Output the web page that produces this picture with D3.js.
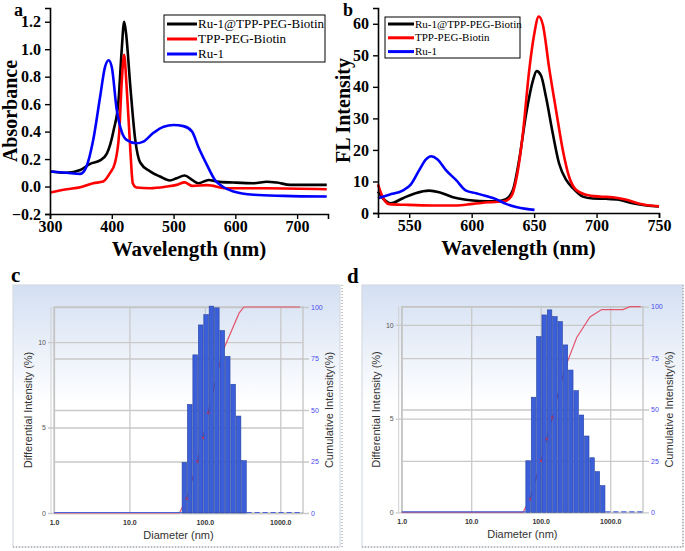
<!DOCTYPE html>
<html>
<head>
<meta charset="utf-8">
<script src="https://cdn.jsdelivr.net/npm/d3@7"></script>
<style>
  body { margin: 0; background: #fff; }
  .serif { font-family: "Liberation Serif", "Times New Roman", serif; }
  .sans { font-family: "Liberation Sans", Arial, sans-serif; }
</style>
</head>
<body>
<svg id="fig" width="685" height="551"></svg>
<script>
// ---------- data ----------
const seriesNames = ["Ru-1@TPP-PEG-Biotin", "TPP-PEG-Biotin", "Ru-1"];
const seriesColors = ["#000000", "#ff0000", "#0000ff"];

// a: absorbance spectra
const absComplexNm = [300, 327, 349, 365, 381, 392, 403, 411, 416, 420, 423, 430, 438, 446, 462, 478, 494, 505, 518, 530, 540, 557, 570, 597, 630, 651, 667, 689, 721, 748];
const absComplexVal = [0.11, 0.10, 0.12, 0.165, 0.19, 0.24, 0.41, 0.63, 0.99, 1.2, 1.12, 0.73, 0.34, 0.175, 0.11, 0.073, 0.044, 0.06, 0.08, 0.048, 0.024, 0.048, 0.036, 0.029, 0.024, 0.035, 0.029, 0.012, 0.012, 0.012];
const absTppNm = [300, 327, 349, 370, 386, 397, 405, 412, 416, 420, 424, 430, 434, 440, 462, 489, 505, 518, 530, 554, 586, 651, 748];
const absTppVal = [-0.044, -0.02, -0.005, 0.024, 0.036, 0.097, 0.17, 0.39, 0.75, 0.96, 0.73, 0.27, 0.024, -0.007, -0.012, 0.0, 0.012, 0.03, 0.005, 0.01, -0.012, -0.012, -0.02];
const absRuNm = [300, 327, 349, 359, 370, 381, 389, 395, 400, 408, 416, 424, 440, 451, 467, 484, 500, 516, 530, 540, 554, 567, 581, 597, 630, 678, 748];
const absRuVal = [0.11, 0.10, 0.092, 0.145, 0.34, 0.65, 0.87, 0.92, 0.87, 0.56, 0.40, 0.34, 0.315, 0.327, 0.39, 0.436, 0.448, 0.44, 0.40, 0.29, 0.158, 0.048, -0.005, -0.036, -0.06, -0.068, -0.073];

// b: fluorescence spectra
const flComplexNm = [525, 530, 535, 545, 555, 566, 574, 585, 595.5, 606, 619.5, 627.5, 633, 638, 643.6, 649, 652, 655.6, 659.6, 665, 670, 675.7, 681, 689, 697, 707.8, 718, 729, 740, 750];
const flComplexVal = [6.8, 4.2, 3.1, 4.7, 6.3, 7.1, 6.6, 5.0, 4.2, 3.8, 3.7, 4.4, 7.3, 16.8, 31.4, 41.9, 45.0, 43.5, 36.6, 25.1, 15.7, 10.5, 7.9, 5.2, 4.6, 4.5, 4.2, 3.1, 2.4, 2.1];
const flTppNm = [525, 528.6, 534, 547, 568.7, 587, 601, 614, 626, 631.6, 635.6, 641, 646, 650, 653.7, 657, 662, 667.6, 673, 678, 683.7, 691.7, 702.4, 713, 724, 734.5, 750];
const flTppVal = [9.1, 5.2, 2.8, 2.6, 2.4, 2.4, 2.9, 3.4, 3.7, 5.2, 10.5, 25.1, 45.0, 56.5, 62.3, 59.7, 46.1, 32.5, 19.9, 11.5, 7.3, 5.8, 5.2, 5.0, 4.2, 2.9, 2.1];
const flRuNm = [525, 534, 544.7, 551, 558, 563.4, 567.4, 572.7, 579.4, 587.4, 595.5, 603.5, 611.5, 619.5, 627.5, 635.6, 643.6, 650.3];
const flRuVal = [4.7, 5.8, 7.1, 8.9, 13.6, 17.0, 18.0, 17.0, 13.6, 10.5, 7.1, 6.3, 5.4, 4.4, 2.9, 1.9, 1.3, 1.0];

const absTicksY = [-0.2, 0.0, 0.2, 0.4, 0.6, 0.8, 1.0, 1.2];
const absTicksX = [300, 400, 500, 600, 700];
const flTicksY = [0, 10, 20, 30, 40, 50, 60];
const flTicksX = [550, 600, 650, 700, 750];

// c, d: DLS size distributions (bin centre diameters in nm, differential %, cumulative %)
const dlsCDiam = [53.5, 63, 74.5, 88, 104, 122, 144, 170, 201, 237, 280, 330];
const dlsCDiff = [2.96, 6.35, 9.25, 11.0, 11.6, 12.1, 12.0, 10.67, 9.16, 7.53, 5.67, 3.06];
const dlsCCumD = [1, 46, 57.5, 79.4, 94.5, 111, 140, 175, 284, 330, 1825];
const dlsCCumV = [0, 0, 7, 25, 36.5, 48.7, 65, 79, 97, 100, 100];
const dlsCMarks = [57.5, 79.4, 94.5, 111];

const dlsDDiam = [66, 79, 94, 112.5, 134, 160, 191, 227, 271, 323, 386, 460, 548, 654, 780];
const dlsDDiff = [2.75, 6.14, 9.37, 10.53, 10.8, 10.44, 10.17, 8.93, 7.59, 6.49, 5.19, 4.07, 2.91, 2.17, 1.42];
const dlsDCumD = [1, 55.6, 70.2, 101, 122, 147, 185, 241, 330, 512, 755, 1528, 1928, 2748];
const dlsDCumV = [0, 0, 6.3, 25, 35.7, 46, 60, 73, 85, 95, 98.6, 98.6, 100, 100];
const dlsDMarks = [70.2, 101, 122, 147];

const diamTicks = [1, 10, 100, 1000];
const diffTicks = [0, 5, 10];
const cumTicks = [0, 25, 50, 75, 100];

const svg = d3.select("#fig");

// ---------- spectrum panels (a, b) ----------
function spectrumPanel(o) {
  const x = d3.scaleLinear().domain(o.xDomain).range([o.l, o.r]);
  const y = d3.scaleLinear().domain(o.yDomain).range([o.b, o.t]);
  const g = svg.append("g").attr("class", "serif");

  const line = d3.line().x(d => x(d[0])).y(d => y(d[1])).curve(d3.curveMonotoneX);
  o.series.forEach((s, i) => {
    g.append("path")
      .datum(d3.zip(s[0], s[1]))
      .attr("d", line)
      .attr("fill", "none")
      .attr("stroke", seriesColors[i])
      .attr("stroke-width", 2.6)
      .attr("stroke-linejoin", "round");
  });

  const ax = g.append("g").attr("transform", `translate(0,${o.b})`)
    .call(d3.axisBottom(x).tickValues(o.xTicks).tickFormat(d3.format("d")).tickSize(5).tickPadding(2));
  const ay = g.append("g").attr("transform", `translate(${o.l},0)`)
    .call(d3.axisLeft(y).tickValues(o.yTicks).tickFormat(o.yFormat).tickSize(5).tickPadding(4));
  [ax, ay].forEach(a => {
    a.select(".domain").attr("stroke", "#000").attr("stroke-width", 1.6);
    a.selectAll(".tick line").attr("stroke", "#000").attr("stroke-width", 1.4);
    a.selectAll("text").attr("fill", "#000").attr("font-size", 16).attr("font-weight", "bold")
      .attr("font-family", "Liberation Serif, Times New Roman, serif");
  });

  g.append("text")
    .attr("x", (o.l + o.r) / 2).attr("y", o.b + 42)
    .attr("text-anchor", "middle").attr("font-size", 21).attr("font-weight", "bold")
    .text("Wavelength (nm)");
  g.append("text")
    .attr("transform", `translate(${o.yTitleX},${(o.t + o.b) / 2}) rotate(-90)`)
    .attr("text-anchor", "middle").attr("font-size", 20).attr("font-weight", "bold")
    .text(o.yTitle);
  g.append("text")
    .attr("x", o.letterX).attr("y", o.letterY)
    .attr("font-size", 18).attr("font-weight", "bold")
    .text(o.letter);

  // legend
  const L = o.legend;
  g.append("rect").attr("x", L.x).attr("y", L.y).attr("width", L.w).attr("height", L.h)
    .attr("fill", "#fff").attr("stroke", "#000").attr("stroke-width", 1);
  seriesNames.forEach((name, i) => {
    const yy = L.y + L.row0 + i * L.step;
    g.append("line").attr("x1", L.x + 3).attr("x2", L.x + 3 + L.seg)
      .attr("y1", yy).attr("y2", yy)
      .attr("stroke", seriesColors[i]).attr("stroke-width", 3);
    g.append("text").attr("x", L.x + 4 + L.seg).attr("y", yy).attr("dy", "0.33em")
      .attr("font-size", L.fs).text(name);
  });
}

spectrumPanel({
  l: 50, r: 328, t: 8, b: 214,
  xDomain: [300, 750], yDomain: [-0.2, 1.3],
  xTicks: absTicksX, yTicks: absTicksY, yFormat: d3.format(".1f"),
  series: [[absComplexNm, absComplexVal], [absTppNm, absTppVal], [absRuNm, absRuVal]],
  yTitle: "Absorbance", yTitleX: 17,
  letter: "a", letterX: 14, letterY: 16,
  legend: { x: 164, y: 15, w: 161, h: 47, row0: 9, step: 15, seg: 30, fs: 13 }
});

spectrumPanel({
  l: 378, r: 659, t: 8, b: 213,
  xDomain: [525, 750], yDomain: [0, 65],
  xTicks: flTicksX, yTicks: flTicksY, yFormat: d3.format("d"),
  series: [[flComplexNm, flComplexVal], [flTppNm, flTppVal], [flRuNm, flRuVal]],
  yTitle: "FL Intensity", yTitleX: 350,
  letter: "b", letterX: 343, letterY: 16,
  legend: { x: 385, y: 17, w: 135, h: 41, row0: 7, step: 13.8, seg: 26, fs: 11 }
});

// ---------- DLS panels (c, d) ----------
const defs = svg.append("defs");
const grad = defs.append("linearGradient").attr("id", "bg").attr("x1", 0).attr("y1", 0).attr("x2", 0).attr("y2", 1);
grad.append("stop").attr("offset", "0%").attr("stop-color", "#d3dff2");
grad.append("stop").attr("offset", "45%").attr("stop-color", "#ffffff");
grad.append("stop").attr("offset", "100%").attr("stop-color", "#ffffff");

function dlsPanel(o) {
  const g = svg.append("g").attr("class", "sans");
  g.append("rect").attr("x", o.fx).attr("y", o.fy).attr("width", o.fw).attr("height", o.fh)
    .attr("fill", "url(#bg)").attr("stroke", "#d6dbe3").attr("stroke-width", 1.2);
  g.append("line").attr("x1", o.fx).attr("x2", o.fx + o.fw).attr("y1", o.fy + o.fh).attr("y2", o.fy + o.fh)
    .attr("stroke", "#8a8a8a").attr("stroke-dasharray", "1,2");
  g.append("text").attr("class", "serif")
    .attr("x", o.letterX).attr("y", o.letterY)
    .attr("font-size", 21).attr("font-weight", "bold")
    .attr("font-family", "Liberation Serif, Times New Roman, serif")
    .text(o.letter);

  const x = d3.scaleLog().domain(o.xDomain).range([o.l, o.r]);
  const yL = d3.scaleLinear().domain([0, o.yMax]).range([o.b, o.t]);
  const yR = d3.scaleLinear().domain([0, 100]).range([o.b, o.t]);
  const W = o.r - o.l;

  // axes with gridlines
  const ax = g.append("g").attr("transform", `translate(0,${o.b})`)
    .call(d3.axisBottom(x).tickValues(diamTicks).tickFormat(d3.format(".1f")).tickSize(0).tickPadding(7));
  ax.selectAll(".tick line").attr("y1", 0).attr("y2", -(o.b - o.t))
    .attr("stroke", "#c9c9c9").attr("stroke-width", 1.3);
  ax.selectAll("text").attr("font-size", 7).attr("font-weight", "bold").attr("fill", "#333");

  const al = g.append("g").attr("transform", `translate(${o.l},0)`)
    .call(d3.axisLeft(yL).tickValues(diffTicks).tickFormat(d3.format("d")).tickSize(0).tickPadding(8));
  al.selectAll(".tick line").attr("x1", -6).attr("x2", W)
    .attr("stroke", "#c9c9c9").attr("stroke-width", 1.3);
  al.selectAll("text").attr("font-size", 7).attr("fill", "#555");

  const ar = g.append("g").attr("transform", `translate(${o.r},0)`)
    .call(d3.axisRight(yR).tickValues(cumTicks).tickFormat(d3.format("d")).tickSize(0).tickPadding(8));
  ar.selectAll(".tick line").attr("x1", -W).attr("x2", 6)
    .attr("stroke", "#c9c9c9").attr("stroke-width", 1.3);
  ar.selectAll("text").attr("font-size", 7).attr("fill", "#4a4af0");
  [ax, al, ar].forEach(a => a.select(".domain").remove());

  g.append("rect").attr("x", o.l).attr("y", o.t).attr("width", W).attr("height", o.b - o.t)
    .attr("fill", "none").attr("stroke", "#c4c4c4").attr("stroke-width", 1.3);
  g.append("line").attr("x1", o.l - 3).attr("x2", o.l - 3).attr("y1", o.t).attr("y2", o.b)
    .attr("stroke", "#cfcfcf").attr("stroke-width", 1);

  // cumulative curve (sits under the bars)
  const cum = d3.zip(o.cumD, o.cumV);
  g.append("path").datum(cum)
    .attr("d", d3.line().x(d => x(d[0])).y(d => yR(d[1])))
    .attr("fill", "none").attr("stroke", "#e2566e").attr("stroke-width", 1.2);

  // bin edges from neighbouring bin centres (geometric midpoints)
  const c = o.diam;
  const edges = c.map((v, i) => i === 0 ? v / Math.sqrt(c[1] / c[0]) : Math.sqrt(c[i - 1] * v));
  edges.push(c[c.length - 1] * Math.sqrt(c[c.length - 1] / c[c.length - 2]));

  const lastEdge = edges[edges.length - 1];
  g.append("line").attr("x1", o.l).attr("x2", x(edges[0])).attr("y1", o.b - 0.5).attr("y2", o.b - 0.5)
    .attr("stroke", "#4a64d8").attr("stroke-width", 1.2);
  g.append("line").attr("x1", x(lastEdge)).attr("x2", o.r).attr("y1", o.b - 0.5).attr("y2", o.b - 0.5)
    .attr("stroke", "#4a64d8").attr("stroke-width", 1.2).attr("stroke-dasharray", "5,3");

  g.append("g").selectAll("rect").data(o.diff).join("rect")
    .attr("x", (d, i) => x(edges[i]) + 0.4)
    .attr("width", (d, i) => x(edges[i + 1]) - x(edges[i]) - 0.8)
    .attr("y", d => yL(d))
    .attr("height", d => o.b - yL(d))
    .attr("fill", "#3b5fd8").attr("stroke", "#26419f").attr("stroke-width", 0.6);

  const cumAt = d3.scaleLog().domain(o.cumD.slice(1)).range(o.cumV.slice(1));
  g.append("g").selectAll("path").data(o.marks).join("path")
    .attr("transform", d => `translate(${x(d)},${yR(cumAt(d))})`)
    .attr("d", "M-1.3,-1.3L1.3,1.3M-1.3,1.3L1.3,-1.3")
    .attr("stroke", "#c8304c").attr("stroke-width", 0.9);

  // titles
  g.append("text").attr("x", (o.l + o.r) / 2).attr("y", o.b + 26)
    .attr("text-anchor", "middle").attr("font-size", 11).attr("fill", "#333")
    .text("Diameter (nm)");
  g.append("text")
    .attr("transform", `translate(${o.l - 22},${(o.t + o.b) / 2}) rotate(-90)`)
    .attr("text-anchor", "middle").attr("font-size", 11).attr("fill", "#333")
    .text("Differential Intensity (%)");
  g.append("text")
    .attr("transform", `translate(${o.r + 30},${(o.t + o.b) / 2}) rotate(-90)`)
    .attr("text-anchor", "middle").attr("font-size", 11).attr("fill", "#333")
    .text("Cumulative Intensity(%)");
}

dlsPanel({
  fx: 13, fy: 285, fw: 327, fh: 262,
  l: 54, r: 303, t: 307, b: 513,
  xDomain: [1, 2000], yMax: 12.05,
  diam: dlsCDiam, diff: dlsCDiff, cumD: dlsCCumD, cumV: dlsCCumV, marks: dlsCMarks,
  letter: "c", letterX: 11, letterY: 282
});

dlsPanel({
  fx: 362, fy: 285, fw: 321, fh: 262,
  l: 401.7, r: 643, t: 306.7, b: 512.3,
  xDomain: [1, 2965], yMax: 10.97,
  diam: dlsDDiam, diff: dlsDDiff, cumD: dlsDCumD, cumV: dlsDCumV, marks: dlsDMarks,
  letter: "d", letterX: 347, letterY: 283
});

// dotted separators at the panel edges
[342, 683].forEach(px => {
  svg.append("line").attr("x1", px).attr("x2", px).attr("y1", 285).attr("y2", 547)
    .attr("stroke", "#8a8a8a").attr("stroke-dasharray", "1,2");
});
</script>
</body>
</html>
